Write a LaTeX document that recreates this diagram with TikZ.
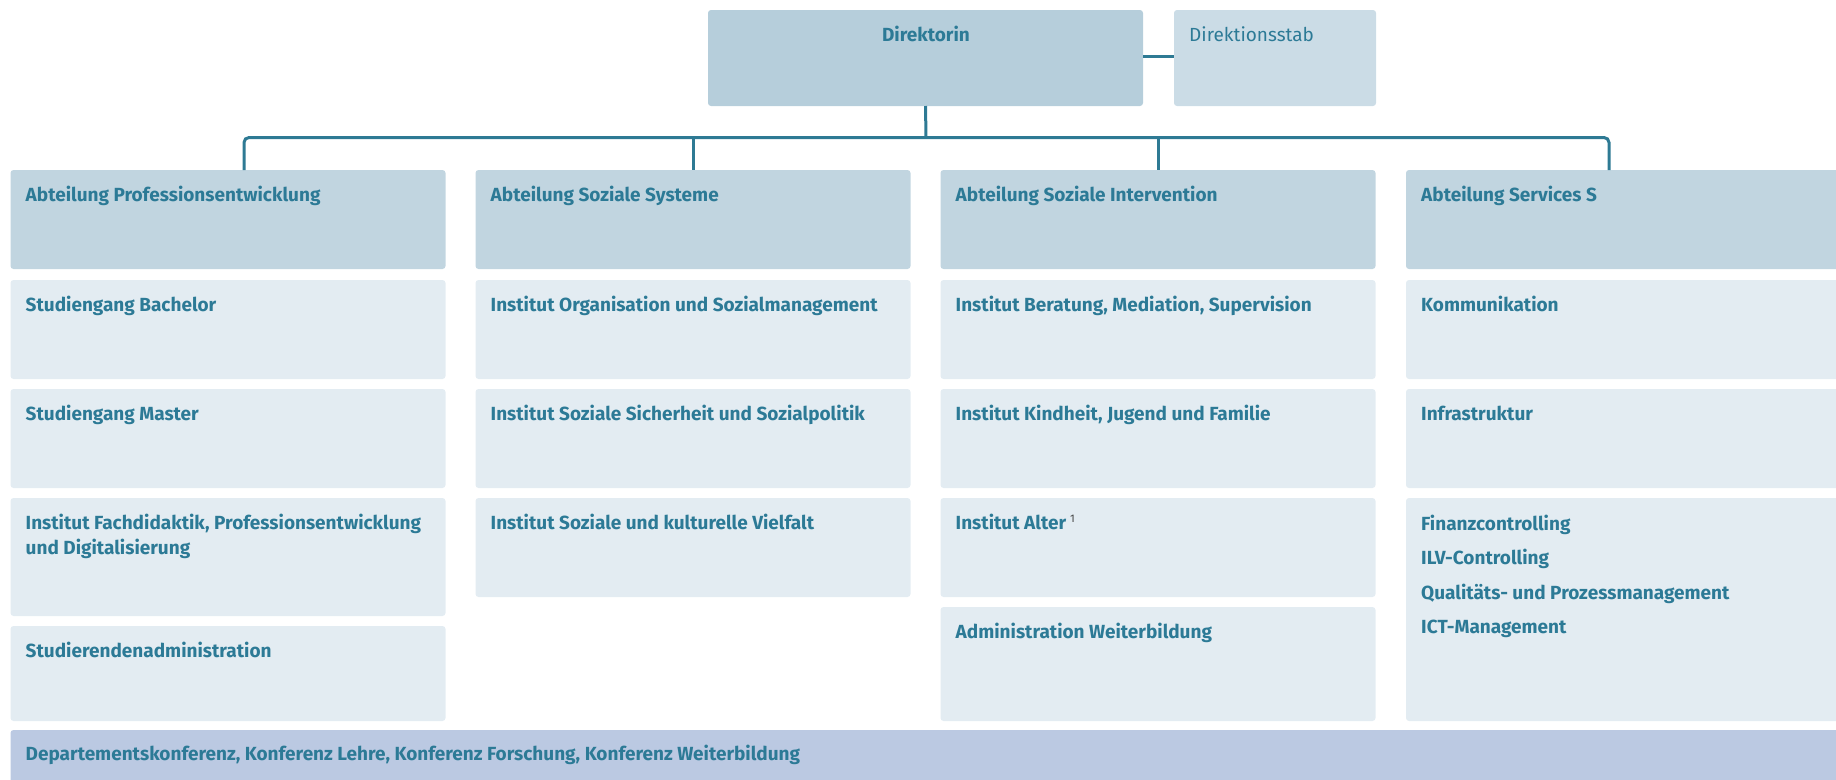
\documentclass[tikz,border=0pt]{standalone}
\usepackage{fontspec}
\setmainfont{Fira Sans}
\definecolor{dirfill}{HTML}{B6CEDB}
\definecolor{stabfill}{HTML}{CBDCE6}
\definecolor{headfill}{HTML}{C1D5E0}
\definecolor{unitfill}{HTML}{E3ECF2}
\definecolor{barfill}{HTML}{BBC9E2}
\definecolor{textblue}{HTML}{2C7A96}
\definecolor{lineblue}{HTML}{2E7A94}
\definecolor{supgray}{HTML}{444444}
\tikzset{
  box/.style={anchor=north west,inner sep=0pt,outer sep=0pt,rounded corners=3pt,minimum width=435pt},
  headbox/.style={box,fill=headfill,minimum height=99pt},
  unitbox/.style={box,fill=unitfill},
  txt/.style={anchor=base west,inner sep=0pt,text=textblue,align=left,
    font=\fontsize{19}{25}\selectfont\bfseries},
  link/.style={draw=lineblue,line width=3pt}
}
\begin{document}
\begin{tikzpicture}[x=1pt,y=-1pt]
\clip (0,0) rectangle (1836,779);
% top
\node[box,fill=dirfill,minimum width=435pt,minimum height=96pt] (dir) at (708,10) {};
\node[box,fill=stabfill,minimum width=202pt,minimum height=96pt] (stab) at (1174,10) {};
\node[txt,anchor=base] (tdir) at (926,41) {Direktorin};
\node[txt,font=\fontsize{19}{25}\selectfont] (tstab) at (1189,41) {Direktionsstab};
% departments
\node[headbox] (h1) at (10.5,170) {};
\node[headbox] (h2) at (475.5,170) {};
\node[headbox] (h3) at (940.5,170) {};
\node[headbox] (h4) at (1406,170) {};
\node[txt] (th1) at ([shift={(15,31)}]h1.north west) {Abteilung Professionsentwicklung};
\node[txt] (th2) at ([shift={(15,31)}]h2.north west) {Abteilung Soziale Systeme};
\node[txt] (th3) at ([shift={(15,31)}]h3.north west) {Abteilung Soziale Intervention};
\node[txt] (th4) at ([shift={(15,31)}]h4.north west) {Abteilung Services S};
% column 1
\node[unitbox,minimum height=99pt] (a1) at (10.5,280) {};
\node[unitbox,minimum height=99pt] (a2) at (10.5,389) {};
\node[unitbox,minimum height=118pt] (a3) at (10.5,498) {};
\node[unitbox,minimum height=95pt] (a4) at (10.5,626) {};
\node[txt] (ta1) at ([shift={(15,31)}]a1.north west) {Studiengang Bachelor};
\node[txt] (ta2) at ([shift={(15,31)}]a2.north west) {Studiengang Master};
% base of a multi-line node is its last line
\node[txt] (ta3) at ([shift={(15,56)}]a3.north west) {Institut Fachdidaktik, Professionsentwicklung\\und Digitalisierung};
\node[txt] (ta4) at ([shift={(15,31)}]a4.north west) {Studierendenadministration};
% column 2
\node[unitbox,minimum height=99pt] (b1) at (475.5,280) {};
\node[unitbox,minimum height=99pt] (b2) at (475.5,389) {};
\node[unitbox,minimum height=99pt] (b3) at (475.5,498) {};
\node[txt] (tb1) at ([shift={(15,31)}]b1.north west) {Institut Organisation und Sozialmanagement};
\node[txt] (tb2) at ([shift={(15,31)}]b2.north west) {Institut Soziale Sicherheit und Sozialpolitik};
\node[txt] (tb3) at ([shift={(15,31)}]b3.north west) {Institut Soziale und kulturelle Vielfalt};
% column 3
\node[unitbox,minimum height=99pt] (c1) at (940.5,280) {};
\node[unitbox,minimum height=99pt] (c2) at (940.5,389) {};
\node[unitbox,minimum height=99pt] (c3) at (940.5,498) {};
\node[unitbox,minimum height=114pt] (c4) at (940.5,607) {};
\node[txt] (tc1) at ([shift={(15,31)}]c1.north west) {Institut Beratung, Mediation, Supervision};
\node[txt] (tc2) at ([shift={(15,31)}]c2.north west) {Institut Kindheit, Jugend und Familie};
\node[txt] (tc3) at ([shift={(15,31)}]c3.north west) {Institut Alter\hspace{4pt}\raisebox{7pt}{\fontsize{11}{11}\selectfont\mdseries\color{supgray}1}};
\node[txt] (tc4) at ([shift={(15,31)}]c4.north west) {Administration Weiterbildung};
% column 4
\node[unitbox,minimum height=99pt] (d1) at (1406,280) {};
\node[unitbox,minimum height=99pt] (d2) at (1406,389) {};
\node[unitbox,minimum height=223pt] (d3) at (1406,498) {};
\node[txt] (td1) at ([shift={(15,31)}]d1.north west) {Kommunikation};
\node[txt] (td2) at ([shift={(15,31)}]d2.north west) {Infrastruktur};
\node[txt] (td3) at ([shift={(15,135.5)}]d3.north west) {Finanzcontrolling\\[9.5pt]ILV-Controlling\\[9.5pt]Qualitäts- und Prozessmanagement\\[9.5pt]ICT-Management};
% conferences
\node[box,fill=barfill,minimum width=1840pt,minimum height=60pt] (bar) at (10.5,730) {};
\node[txt] (tbar) at ([shift={(15,30)}]bar.north west) {Departementskonferenz, Konferenz Lehre, Konferenz Forschung, Konferenz Weiterbildung};
% connectors
\coordinate (bus) at (926,137.5);
\coordinate (p1) at ([xshift=233.5pt]h1.north west);
\coordinate (p4) at ([xshift=203pt]h4.north west);
\draw[link] ([yshift=2pt]dir.east) -- ([yshift=2pt]stab.west);
\draw[link] (dir.south) -- (bus);
\draw[link,rounded corners=5pt] (p1) |- (p4 |- bus) -- (p4);
\draw[link] (h2.north |- bus) -- (h2.north);
\draw[link] (h3.north |- bus) -- (h3.north);
\end{tikzpicture}
\end{document}
